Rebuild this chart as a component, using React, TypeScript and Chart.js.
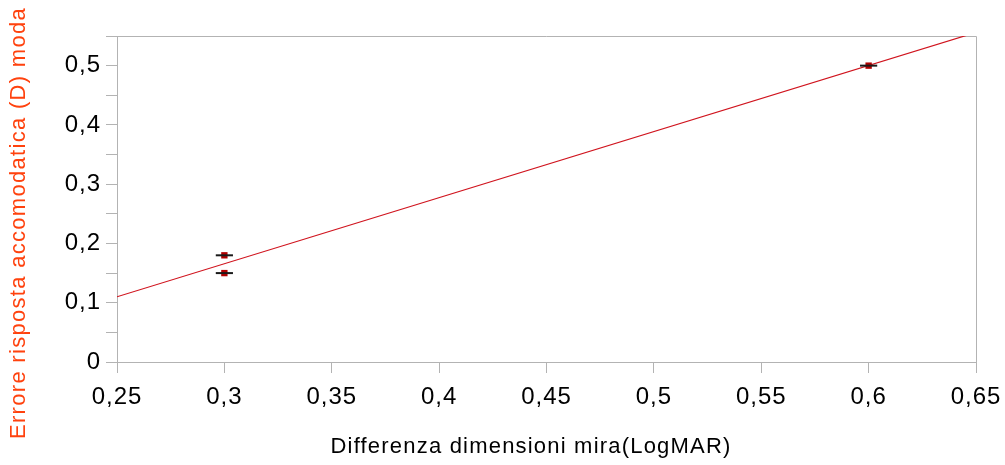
import React, { useEffect, useRef } from "react";
import { Chart, registerables } from "chart.js";

Chart.register(...registerables);

const pointX = [0.3, 0.3, 0.6];
const pointY = [0.18, 0.15, 0.5];
const xErr = [0.004, 0.004, 0.004];
const trendX = [0.25, 0.65];
const trendY = [0.11, 0.556];
const xTitle = "Differenza dimensioni mira(LogMAR)";
const yTitle = "Errore risposta accomodatica (D) moda";

const FONT = "'Liberation Sans', Arial, sans-serif";
const fmt = (v: number) => String(Math.round(v * 100) / 100).replace(".", ",");

const boxPlugin = {
  id: "boxPlugin",
  beforeLayout(chart: any) {
    chart.ctx.letterSpacing = "1px";
  },
  beforeDraw(chart: any) {
    chart.ctx.letterSpacing = "1px";
  },
  beforeDatasetsDraw(chart: any) {
    const { ctx, chartArea: a } = chart;
    ctx.save();
    ctx.strokeStyle = "#b3b3b3";
    ctx.lineWidth = 1;
    ctx.beginPath();
    ctx.moveTo(a.left, a.top + 0.5);
    ctx.lineTo(a.right + 0.5, a.top + 0.5);
    ctx.lineTo(a.right + 0.5, a.bottom);
    ctx.stroke();
    ctx.restore();
  },
  afterDatasetsDraw(chart: any) {
    const { ctx } = chart;
    const xs = chart.scales.x;
    const ys = chart.scales.y;
    ctx.save();
    ctx.strokeStyle = "#1a1a1a";
    ctx.lineWidth = 2;
    for (let i = 0; i < pointX.length; i++) {
      const x1 = xs.getPixelForValue(pointX[i] - xErr[i]);
      const x2 = xs.getPixelForValue(pointX[i] + xErr[i]);
      const y = ys.getPixelForValue(pointY[i]);
      ctx.beginPath();
      ctx.moveTo(x1, y);
      ctx.lineTo(x2, y);
      ctx.stroke();
    }
    ctx.restore();
  },
  afterDraw(chart: any) {
    const { ctx } = chart;
    ctx.save();
    ctx.fillStyle = "#ff420e";
    ctx.font = "22px " + FONT;
    ctx.letterSpacing = "1.3px";
    ctx.textAlign = "center";
    ctx.textBaseline = "middle";
    ctx.translate(19, 223);
    ctx.rotate(-Math.PI / 2);
    ctx.fillText(yTitle, 0, 0);
    ctx.restore();
    ctx.save();
    ctx.fillStyle = "#000";
    ctx.font = "22px " + FONT;
    ctx.letterSpacing = "1.2px";
    ctx.textAlign = "center";
    ctx.textBaseline = "middle";
    ctx.fillText(xTitle, 531, 447);
    ctx.restore();
  },
};

export default function App() {
  const ref = useRef<HTMLCanvasElement>(null);
  useEffect(() => {
    document.body.style.margin = "0";
    const chart = new Chart(ref.current!, {
      type: "scatter",
      data: {
        datasets: [
          {
            label: "data",
            data: pointX.map((x, i) => ({ x, y: pointY[i] })),
            pointStyle: "rect",
            pointRadius: 4.5,
            pointBorderWidth: 0,
            backgroundColor: "#b00000",
            borderColor: "#b00000",
            order: 1,
          },
          {
            label: "trend",
            type: "line",
            data: trendX.map((x, i) => ({ x, y: trendY[i] })),
            borderColor: "#d0141e",
            borderWidth: 1.2,
            pointRadius: 0,
            fill: false,
            order: 2,
          } as any,
        ],
      },
      options: {
        responsive: false,
        animation: false,
        layout: { padding: { left: 0, right: 29, top: 36, bottom: 0 } },
        plugins: { legend: { display: false }, tooltip: { enabled: false } },
        scales: {
          x: {
            type: "linear",
            min: 0.25,
            max: 0.65,
            ticks: {
              stepSize: 0.05,
              color: "#000",
              font: { family: FONT, size: 24 },
              padding: 10,
              maxRotation: 0,
              callback: (v: any) => fmt(v),
            },
            grid: { drawOnChartArea: false, drawTicks: true, tickLength: 11, color: "#b3b3b3" },
            border: { color: "#b3b3b3" },
            afterFit: (s: any) => {
              s.height = 103;
              s.paddingLeft = 0;
              s.paddingRight = 0;
            },
          },
          y: {
            type: "linear",
            min: 0,
            max: 0.55,
            ticks: {
              stepSize: 0.05,
              color: "#000",
              font: { family: FONT, size: 24 },
              padding: 5,
              autoSkip: false,
              callback: (v: any) => {
                const k = Math.round(v * 100);
                return k % 10 === 0 ? fmt(v) : "";
              },
            },
            grid: { drawOnChartArea: false, drawTicks: true, tickLength: 11, color: "#b3b3b3" },
            border: { color: "#b3b3b3" },
            afterFit: (s: any) => {
              s.width = 117;
              s.paddingTop = 0;
              s.paddingBottom = 0;
            },
          },
        },
      },
      plugins: [boxPlugin],
    });
    return () => chart.destroy();
  }, []);
  return <canvas ref={ref} width={1005} height={465} style={{ display: "block" }} />;
}
